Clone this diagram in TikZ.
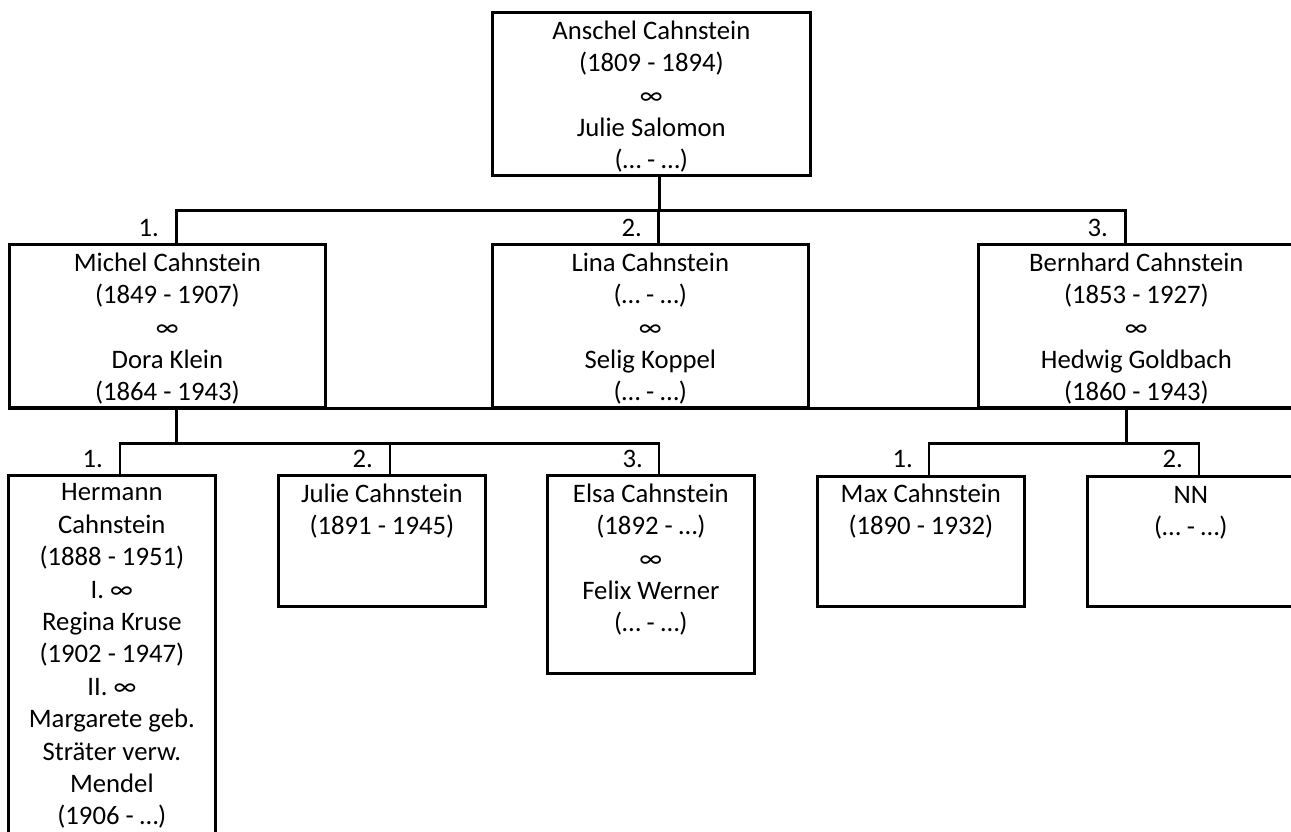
\documentclass[tikz,border=0pt]{standalone}
\usepackage{fontspec}
\setmainfont{Carlito}
\begin{document}
\begin{tikzpicture}[x=1pt, y=-1pt,
    box/.style={draw, line width=2.7pt, inner sep=0pt, anchor=north west},
    txt/.style={anchor=north, align=center, inner sep=0pt, yshift=-9.5pt,
        font=\fontsize{26.7}{32.4}\selectfont},
    num/.style={anchor=base east, inner sep=0pt, font=\fontsize{26.7}{32.4}\selectfont},
    line/.style={line width=2.7pt}]
    % Frame
    \useasboundingbox (0,0) rectangle (1291,832);
    \clip (0,0) rectangle (1291,832);

    % Boxes
    \node[box, minimum width=318, minimum height=163] (anschel) at (491,11) {};
    \node[box, minimum width=316, minimum height=163] (michel) at (8,243) {};
    \node[box, minimum width=316, minimum height=163] (lina) at (491,243) {};
    \node[box, minimum width=316, minimum height=163] (bernhard) at (977,243) {};
    \node[box, minimum width=207, minimum height=400] (hermann) at (7,474) {};
    \node[box, minimum width=207, minimum height=131] (julie) at (277,474) {};
    \node[box, minimum width=207, minimum height=198] (elsa) at (546,474) {};
    \node[box, minimum width=207, minimum height=130] (max) at (816,475) {};
    \node[box, minimum width=207, minimum height=130] (nn) at (1086,475) {};

    % Names
    \node[txt] (anschel-t) at (anschel.north) {Anschel Cahnstein\\(1809 - 1894)\\∞\\Julie Salomon\\(… - …)};
    \node[txt] (michel-t) at (michel.north) {Michel Cahnstein\\(1849 - 1907)\\∞\\Dora Klein\\(1864 - 1943)};
    \node[txt] (lina-t) at (lina.north) {Lina Cahnstein\\(… - …)\\∞\\Selig Koppel\\(… - …)};
    \node[txt] (bernhard-t) at (bernhard.north) {Bernhard Cahnstein\\(1853 - 1927)\\∞\\Hedwig Goldbach\\(1860 - 1943)};
    \node[txt] (hermann-t) at (hermann.north) {Hermann\\Cahnstein\\(1888 - 1951)\\I. ∞\\Regina Kruse\\(1902 - 1947)\\II. ∞\\Margarete geb.\\Sträter verw.\\Mendel\\(1906 - …)};
    \node[txt] (julie-t) at (julie.north) {Julie Cahnstein\\(1891 - 1945)};
    \node[txt] (elsa-t) at (elsa.north) {Elsa Cahnstein\\(1892 - …)\\∞\\Felix Werner\\(… - …)};
    \node[txt] (max-t) at ([yshift=1pt]max.north) {Max Cahnstein\\(1890 - 1932)};
    \node[txt] (nn-t) at ([yshift=1pt]nn.north) {\vphantom{(}NN\\(… - …)};

    % Children of Anschel
    \draw[line] ([xshift=8pt]anschel.south) -- ++(0,34) coordinate (busA);
    \draw[line] ([xshift=9pt]michel.north) |- ([xshift=-11pt]bernhard.north |- busA) -- ([xshift=-11pt]bernhard.north);
    \draw[line] ([xshift=8pt]lina.north) -- ([xshift=8pt]lina.north |- busA);
    \draw[line] (michel.south west) -- (bernhard.south east);

    % Children of Michel
    \draw[line] ([xshift=9pt]michel.south) -- ++(0,35) coordinate (busM);
    \draw[line] ([xshift=8pt]hermann.north) |- ([xshift=8pt]elsa.north |- busM) -- ([xshift=8pt]elsa.north);
    \draw[line] ([xshift=8pt]julie.north) -- ([xshift=8pt]julie.north |- busM);

    % Children of Bernhard
    \draw[line] ([xshift=-10pt]bernhard.south) -- ++(0,35) coordinate (busB);
    \draw[line] ([xshift=8pt]max.north) |- ([xshift=8pt]nn.north |- busB) -- ([xshift=8pt]nn.north);

    % Numbers
    \foreach \i/\x in {1/175, 2/658, 3/1124}
        \node[num] (gen-\i) at (\x-16, 236) {\i.};
    \foreach \i/\x in {1/118, 2/388, 3/658}
        \node[num] (michel-\i) at (\x-15, 467) {\i.};
    \foreach \i/\x in {1/928, 2/1198}
        \node[num] (bernhard-\i) at (\x-15, 467) {\i.};
\end{tikzpicture}
\end{document}
